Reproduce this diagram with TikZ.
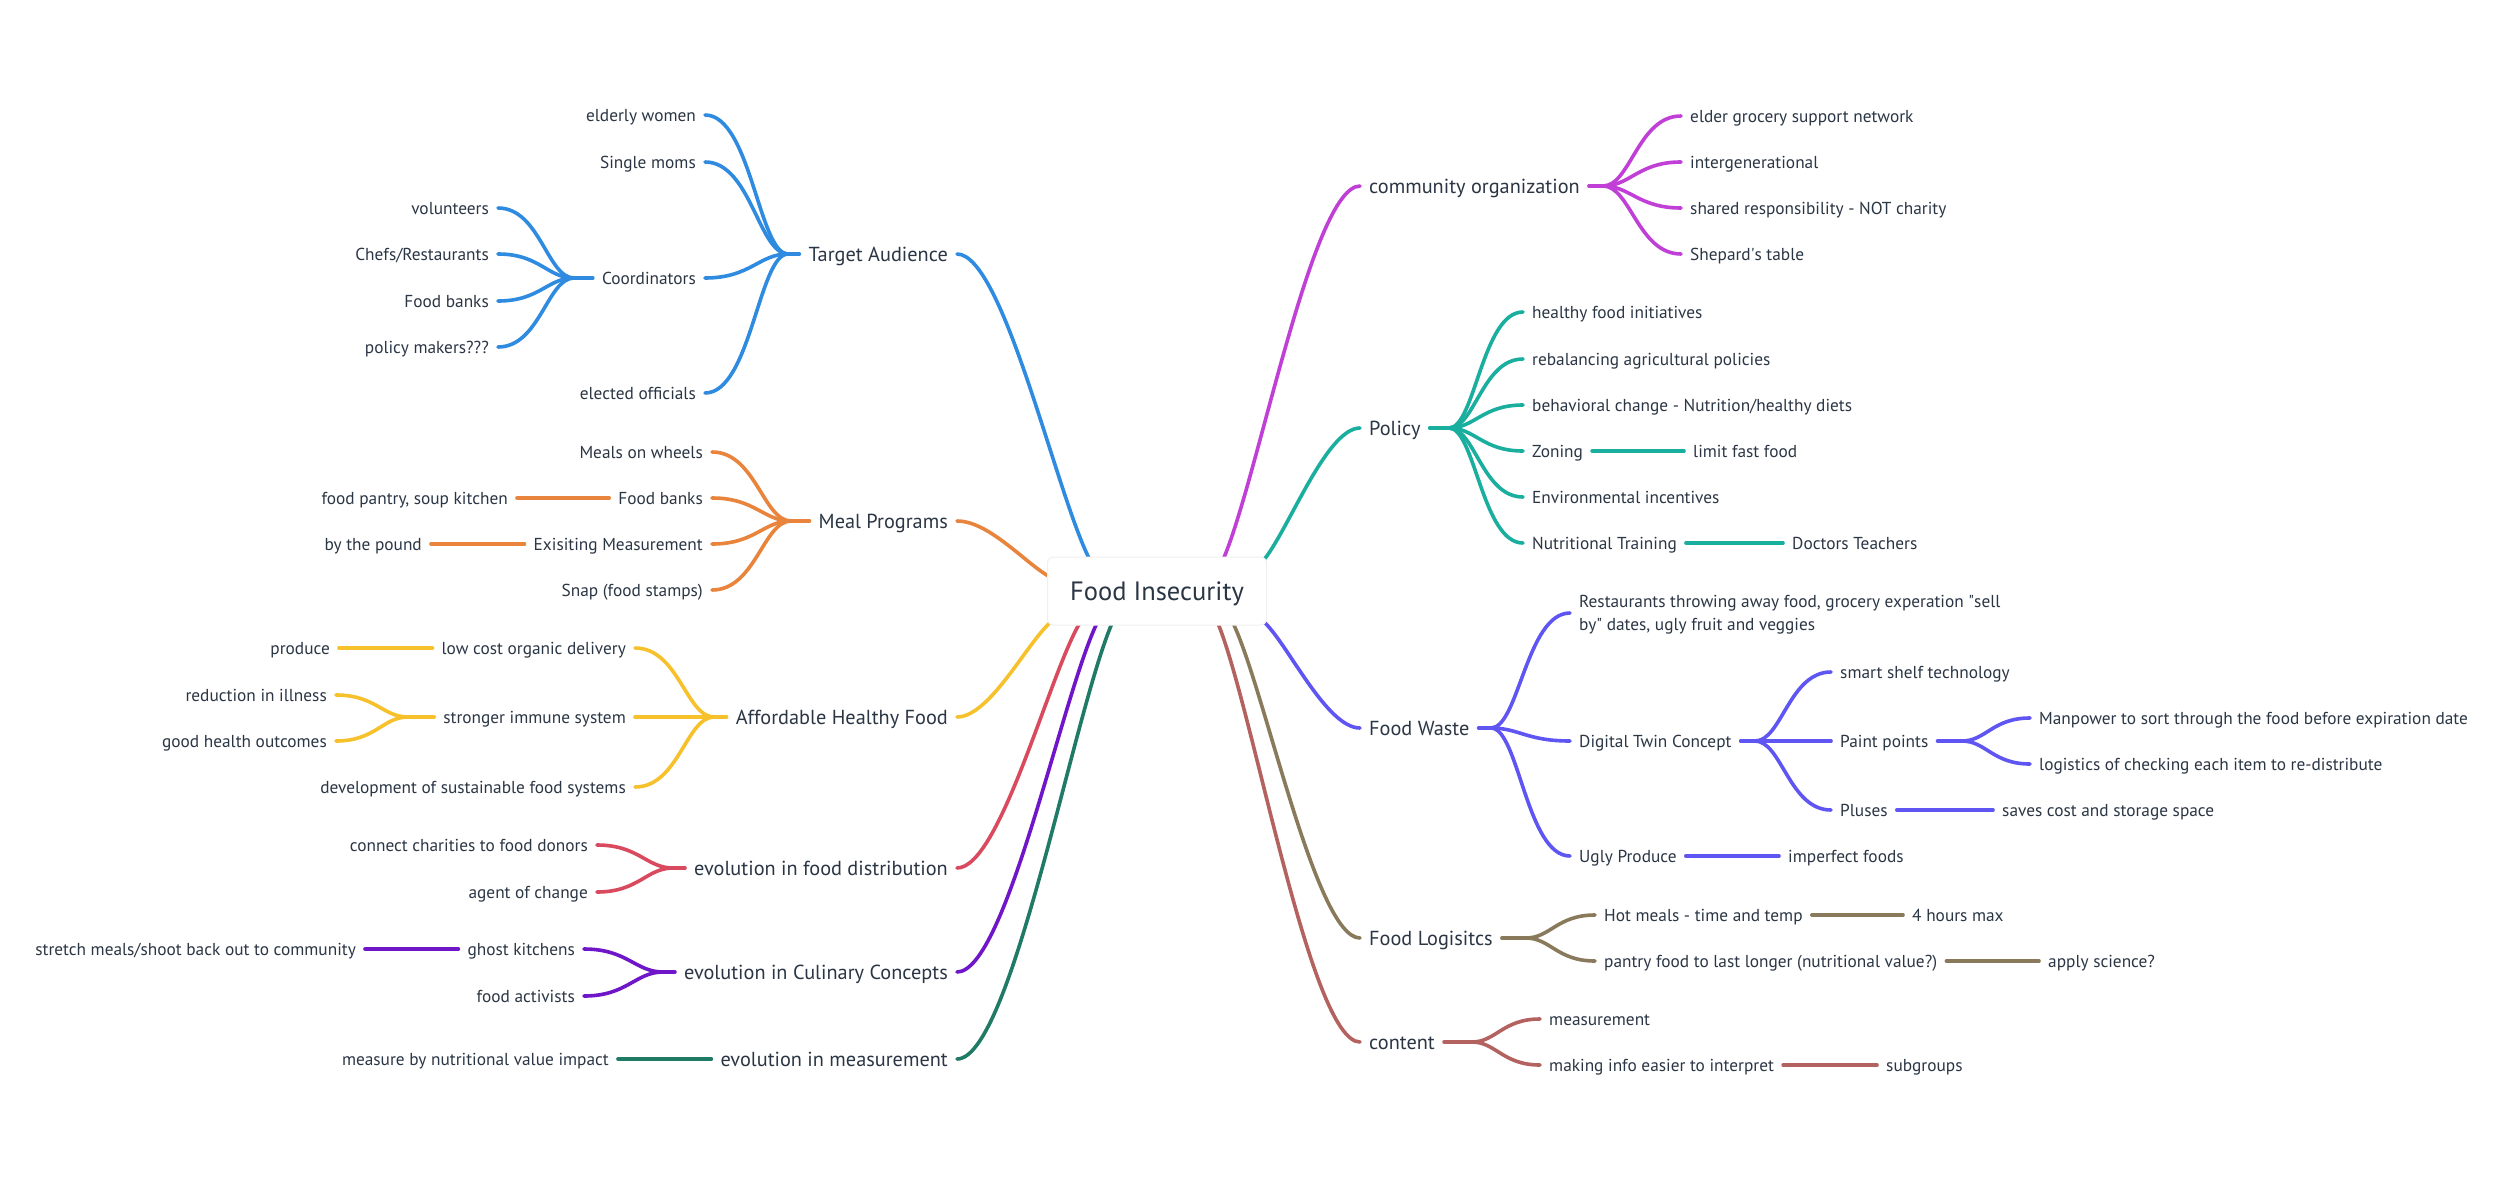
\documentclass[tikz,border=0pt]{standalone}
\usepackage{fontspec}
\setmainfont{PT Sans}
\usetikzlibrary{calc}
\definecolor{txt}{HTML}{2B3645}
\definecolor{cTA}{HTML}{2E8BE0}
\definecolor{cMP}{HTML}{E8843C}
\definecolor{cAHF}{HTML}{F6C12B}
\definecolor{cEFD}{HTML}{D94A5E}
\definecolor{cECC}{HTML}{6F16C9}
\definecolor{cEM}{HTML}{1F7A66}
\definecolor{cCO}{HTML}{C03FD6}
\definecolor{cPOL}{HTML}{1AAE9F}
\definecolor{cFW}{HTML}{5F55F2}
\definecolor{cFL}{HTML}{8A7A5C}
\definecolor{cCT}{HTML}{B3625F}
\pgfdeclarelayer{bg}
\pgfsetlayers{bg,main}
\tikzset{
  xbase/.style={inner xsep=9pt, inner ysep=0pt, text=txt, text depth=0pt},
  xleaf/.style={xbase, font=\fontsize{17.3}{23}\selectfont, text height=12.1pt},
  xbr/.style={xbase, font=\fontsize{20.3}{25}\selectfont, text height=14.2pt},
  onL/.style={anchor=east},
  onR/.style={anchor=west},
  conn/.style={line width=3.6pt, line cap=round},
  fanc/.style={to path={let \p1=(\tikztostart),\p2=(\tikztotarget),\n1={\x2-\x1} in
     .. controls ({\x1+0.55*(\n1)},{\y1}) and ({\x2-0.35*(\n1)},{\y2}) .. (\tikztotarget)}},
  trunkc/.style={to path={let \p1=(\tikztostart),\p2=(\tikztotarget) in
     .. controls ({\x1+0.35*(\x2-\x1)},{\y1}) and ({\x1+0.75*(\x2-\x1)},{\y1+0.8*(\y2-\y1)}) .. (\tikztotarget)}},
}
\begin{document}
\begin{tikzpicture}[x=1pt,y=-1pt]
\begin{pgfonlayer}{bg}
\fill[white] (0,0) rectangle (2500,1199);
\end{pgfonlayer}
\useasboundingbox (0,0) rectangle (2500,1199);

% central topic
\node[draw=black!6, line width=1pt, fill=white, rounded corners=6pt, minimum width=219pt, minimum height=68pt,
      inner sep=0pt, text height=18.5pt, text depth=0pt, text=txt, font=\fontsize{26.5}{31}\selectfont] (c) at (1157,591) {Food Insecurity};

% ports on the central topic
\coordinate (pta) at (1091,562);
\coordinate (pmp) at (1052,578);
\coordinate (pahf) at (1052,621);
\coordinate (pefd) at (1081,621);
\coordinate (pecc) at (1098,621);
\coordinate (pem) at (1113,621);
\coordinate (porg) at (1222,562);
\coordinate (ppol) at (1262,562);
\coordinate (pfw) at (1263,621);
\coordinate (pfl) at (1232,621);
\coordinate (pct) at (1217,621);

% left main topics
\node[xbr,onL] (ta) at (957,254) {Target Audience};
\node[xbr,onL] (mp) at (957,521) {Meal Programs};
\node[xbr,onL] (ahf) at (957,717) {Affordable Healthy Food};
\node[xbr,onL] (efd) at (957,868) {evolution in food distribution};
\node[xbr,onL] (ecc) at (957,972) {evolution in Culinary Concepts};
\node[xbr,onL] (em) at (957,1059) {evolution in measurement};

% Target Audience
\node[xleaf,onL] (tew) at (705,115) {elderly women};
\node[xleaf,onL] (tsm) at (705,162) {Single moms};
\node[xleaf,onL] (tco) at (705,278) {Coordinators};
\node[xleaf,onL] (teo) at (705,393) {elected officials};
\node[xleaf,onL] (cvo) at (498,208) {volunteers};
\node[xleaf,onL] (cch) at (498,254) {Chefs/Restaurants};
\node[xleaf,onL] (cfb) at (498,301) {Food banks};
\node[xleaf,onL] (cpm) at (498,347) {policy makers???};

% Meal Programs
\node[xleaf,onL] (mmw) at (712,452) {Meals on wheels};
\node[xleaf,onL] (mfb) at (712,498) {Food banks};
\node[xleaf,onL] (mem) at (712,544) {Exisiting Measurement};
\node[xleaf,onL] (msn) at (712,590) {Snap (food stamps)};
\node[xleaf,onL] (mfp) at (517,498) {food pantry, soup kitchen};
\node[xleaf,onL] (mbp) at (431,544) {by the pound};

% Affordable Healthy Food
\node[xleaf,onL] (alc) at (635,648) {low cost organic delivery};
\node[xleaf,onL] (asi) at (635,717) {stronger immune system};
\node[xleaf,onL] (ads) at (635,787) {development of sustainable food systems};
\node[xleaf,onL] (apr) at (339,648) {produce};
\node[xleaf,onL] (ari) at (336,695) {reduction in illness};
\node[xleaf,onL] (agh) at (336,741) {good health outcomes};

% evolutions
\node[xleaf,onL] (dcc) at (597,845) {connect charities to food donors};
\node[xleaf,onL] (dag) at (597,892) {agent of change};
\node[xleaf,onL] (ugk) at (584,949) {ghost kitchens};
\node[xleaf,onL] (ufa) at (584,996) {food activists};
\node[xleaf,onL] (usm) at (365,949) {stretch meals/shoot back out to community};
\node[xleaf,onL] (mnv) at (618,1059) {measure by nutritional value impact};

% right main topics
\node[xbr,onR] (co) at (1360,186) {community organization};
\node[xbr,onR] (pol) at (1360,428) {Policy};
\node[xbr,onR] (fw) at (1360,728) {Food Waste};
\node[xbr,onR] (fl) at (1360,938) {Food Logisitcs};
\node[xbr,onR] (ct) at (1360,1042) {content};

% community organization
\node[xleaf,onR] (oeg) at (1681,116) {elder grocery support network};
\node[xleaf,onR] (oig) at (1681,162) {intergenerational};
\node[xleaf,onR] (osr) at (1681,208) {shared responsibility - NOT charity};
\node[xleaf,onR] (ost) at (1681,254) {Shepard\textquotesingle s table};

% Policy
\node[xleaf,onR] (phf) at (1523,312) {healthy food initiatives};
\node[xleaf,onR] (prb) at (1523,359) {rebalancing agricultural policies};
\node[xleaf,onR] (pbc) at (1523,405) {behavioral change - Nutrition/healthy diets};
\node[xleaf,onR] (pzo) at (1523,451) {Zoning};
\node[xleaf,onR] (pei) at (1523,497) {Environmental incentives};
\node[xleaf,onR] (pnt) at (1523,543) {Nutritional Training};
\node[xleaf,onR] (plf) at (1684,451) {limit fast food};
\node[xleaf,onR] (pdt) at (1783,543) {Doctors Teachers};

% Food Waste
\node[xleaf,onR,align=left,text height=35.1pt] (wre) at (1570,613) {Restaurants throwing away food, grocery experation \textquotedbl sell\\by\textquotedbl{} dates, ugly fruit and veggies};
\node[xleaf,onR] (wdt) at (1570,741) {Digital Twin Concept};
\node[xleaf,onR] (wss) at (1831,672) {smart shelf technology};
\node[xleaf,onR] (wpp) at (1831,741) {Paint points};
\node[xleaf,onR] (wmp) at (2030,718) {Manpower to sort through the food before expiration date};
\node[xleaf,onR] (wlg) at (2030,764) {logistics of checking each item to re-distribute};
\node[xleaf,onR] (wpl) at (1831,810) {Pluses};
\node[xleaf,onR] (wsc) at (1993,810) {saves cost and storage space};
\node[xleaf,onR] (wup) at (1570,856) {Ugly Produce};
\node[xleaf,onR] (wif) at (1779,856) {imperfect foods};

% Food Logistics
\node[xleaf,onR] (lhm) at (1595,915) {Hot meals - time and temp};
\node[xleaf,onR] (l4h) at (1903,915) {4 hours max};
\node[xleaf,onR] (lpf) at (1595,961) {pantry food to last longer (nutritional value?)};
\node[xleaf,onR] (las) at (2039,961) {apply science?};

% content
\node[xleaf,onR] (cme) at (1540,1019) {measurement};
\node[xleaf,onR] (cmi) at (1540,1065) {making info easier to interpret};
\node[xleaf,onR] (csg) at (1877,1065) {subgroups};

% junctions
\coordinate (jta) at (788,254);
\coordinate (jco) at (574,278);
\coordinate (jmp) at (791,521);
\coordinate (jahf) at (714,717);
\coordinate (jasi) at (408,717);
\coordinate (jefd) at (673,868);
\coordinate (jecc) at (663,972);
\coordinate (jorg) at (1603,186);
\coordinate (jpol) at (1449,428);
\coordinate (jfw) at (1491,728);
\coordinate (jdt) at (1755,741);
\coordinate (jpp) at (1962,741);
\coordinate (jfl) at (1526,938);
\coordinate (jct) at (1472,1042);

\begin{pgfonlayer}{bg}
\begin{scope}[conn, draw=cTA]
\draw (ta.east) to[trunkc] (pta);
\draw (jta) -- (ta.west);
\draw (tew.east) to[fanc] (jta);
\draw (tsm.east) to[fanc] (jta);
\draw (tco.east) to[fanc] (jta);
\draw (teo.east) to[fanc] (jta);
\draw (jco) -- (tco.west);
\draw (cvo.east) to[fanc] (jco);
\draw (cch.east) to[fanc] (jco);
\draw (cfb.east) to[fanc] (jco);
\draw (cpm.east) to[fanc] (jco);
\end{scope}
\begin{scope}[conn, draw=cMP]
\draw (mp.east) to[trunkc] (pmp);
\draw (jmp) -- (mp.west);
\draw (mmw.east) to[fanc] (jmp);
\draw (mfb.east) to[fanc] (jmp);
\draw (mem.east) to[fanc] (jmp);
\draw (msn.east) to[fanc] (jmp);
\draw (mfp.east) -- (mfb.west);
\draw (mbp.east) -- (mem.west);
\end{scope}
\begin{scope}[conn, draw=cAHF]
\draw (ahf.east) to[trunkc] (pahf);
\draw (jahf) -- (ahf.west);
\draw (alc.east) to[fanc] (jahf);
\draw (asi.east) to[fanc] (jahf);
\draw (ads.east) to[fanc] (jahf);
\draw (apr.east) -- (alc.west);
\draw (jasi) -- (asi.west);
\draw (ari.east) to[fanc] (jasi);
\draw (agh.east) to[fanc] (jasi);
\end{scope}
\begin{scope}[conn, draw=cEFD]
\draw (efd.east) to[trunkc] (pefd);
\draw (jefd) -- (efd.west);
\draw (dcc.east) to[fanc] (jefd);
\draw (dag.east) to[fanc] (jefd);
\end{scope}
\begin{scope}[conn, draw=cECC]
\draw (ecc.east) to[trunkc] (pecc);
\draw (jecc) -- (ecc.west);
\draw (ugk.east) to[fanc] (jecc);
\draw (ufa.east) to[fanc] (jecc);
\draw (usm.east) -- (ugk.west);
\end{scope}
\begin{scope}[conn, draw=cEM]
\draw (em.east) to[trunkc] (pem);
\draw (mnv.east) -- (em.west);
\end{scope}
\begin{scope}[conn, draw=cCO]
\draw (co.west) to[trunkc] (porg);
\draw (co.east) -- (jorg);
\draw (oeg.west) to[fanc] (jorg);
\draw (oig.west) to[fanc] (jorg);
\draw (osr.west) to[fanc] (jorg);
\draw (ost.west) to[fanc] (jorg);
\end{scope}
\begin{scope}[conn, draw=cPOL]
\draw (pol.west) to[trunkc] (ppol);
\draw (pol.east) -- (jpol);
\draw (phf.west) to[fanc] (jpol);
\draw (prb.west) to[fanc] (jpol);
\draw (pbc.west) to[fanc] (jpol);
\draw (pzo.west) to[fanc] (jpol);
\draw (pei.west) to[fanc] (jpol);
\draw (pnt.west) to[fanc] (jpol);
\draw (pzo.east) -- (plf.west);
\draw (pnt.east) -- (pdt.west);
\end{scope}
\begin{scope}[conn, draw=cFW]
\draw (fw.west) to[trunkc] (pfw);
\draw (fw.east) -- (jfw);
\draw (wre.west) to[fanc] (jfw);
\draw (wdt.west) to[fanc] (jfw);
\draw (wup.west) to[fanc] (jfw);
\draw (wdt.east) -- (jdt);
\draw (wss.west) to[fanc] (jdt);
\draw (wpp.west) to[fanc] (jdt);
\draw (wpl.west) to[fanc] (jdt);
\draw (wpp.east) -- (jpp);
\draw (wmp.west) to[fanc] (jpp);
\draw (wlg.west) to[fanc] (jpp);
\draw (wpl.east) -- (wsc.west);
\draw (wup.east) -- (wif.west);
\end{scope}
\begin{scope}[conn, draw=cFL]
\draw (fl.west) to[trunkc] (pfl);
\draw (fl.east) -- (jfl);
\draw (lhm.west) to[fanc] (jfl);
\draw (lpf.west) to[fanc] (jfl);
\draw (lhm.east) -- (l4h.west);
\draw (lpf.east) -- (las.west);
\end{scope}
\begin{scope}[conn, draw=cCT]
\draw (ct.west) to[trunkc] (pct);
\draw (ct.east) -- (jct);
\draw (cme.west) to[fanc] (jct);
\draw (cmi.west) to[fanc] (jct);
\draw (cmi.east) -- (csg.west);
\end{scope}
\end{pgfonlayer}
\end{tikzpicture}
\end{document}
